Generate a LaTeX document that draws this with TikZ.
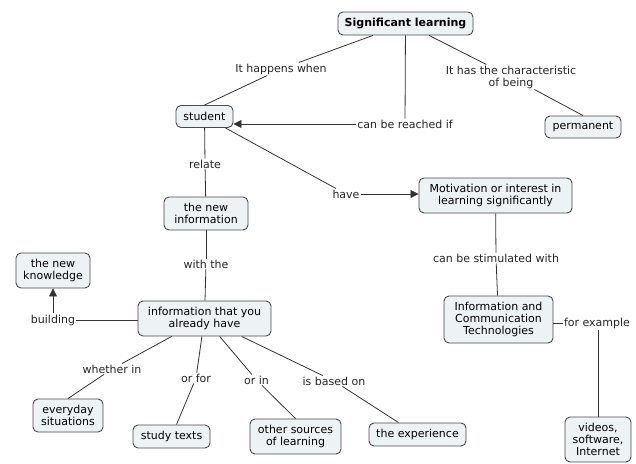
\documentclass[tikz,border=0pt]{standalone}
\usepackage{fontspec}
\setmainfont{DejaVu Sans}
\usetikzlibrary{arrows.meta}
\definecolor{boxfill}{HTML}{EDF2F5}
\definecolor{boxline}{HTML}{4A4A4A}
\definecolor{edgecol}{HTML}{333333}
\begin{document}
\begin{tikzpicture}[x=1pt,y=-1pt, font=\fontsize{11}{12}\selectfont,
  concept/.style={draw=boxline, fill=boxfill, rounded corners=5pt, line width=0.9pt, align=center, inner sep=0pt},
  link/.style={align=center, inner sep=1pt, text=black!85},
  conn/.style={draw=edgecol, line width=0.8pt},
  arr/.style={conn, -{Triangle[length=8pt,width=8pt]}}]
\useasboundingbox[fill=white] (0,0) rectangle (636,463);
% concepts
\node[concept, minimum width=135pt, minimum height=23pt] (sl) at (405.5,23.5) {\bfseries Significant learning};
\node[concept, minimum width=57pt, minimum height=22pt] (student) at (204.5,116.5) {student};
\node[concept, minimum width=76pt, minimum height=22pt] (perm) at (583,127) {permanent};
\node[concept, minimum width=84pt, minimum height=33pt] (newinfo) at (206,213.5) {the new\\information};
\node[concept, minimum width=153pt, minimum height=35pt] (motiv) at (495.5,195.5) {Motivation or interest in\\learning significantly};
\node[concept, minimum width=74pt, minimum height=35pt] (newknow) at (53,270.5) {the new\\knowledge};
\node[concept, minimum width=133pt, minimum height=35pt] (info) at (204.5,318.5) {information that you\\already have};
\node[concept, minimum width=109pt, minimum height=47pt] (ict) at (498.5,319.5) {Information and\\Communication\\Technologies};
\node[concept, minimum width=70pt, minimum height=33pt] (everyday) at (68,415.5) {everyday\\situations};
\node[concept, minimum width=77pt, minimum height=23pt] (study) at (171.5,436.5) {study texts};
\node[concept, minimum width=91pt, minimum height=35pt] (other) at (295.5,436.5) {other sources\\of learning};
\node[concept, minimum width=97pt, minimum height=23pt] (exper) at (417.5,434.5) {the experience};
\node[concept, minimum width=66pt, minimum height=45pt] (videos) at (598,439.5) {videos,\\software,\\Internet};
% linking phrases
\node[link] (happens) at (281,69) {It happens when};
\node[link] (reach) at (405,124) {can be reached if};
\node[link] (charac) at (511,77) {It has the characteristic\\of being};
\node[link] (relate) at (205,164) {relate};
\node[link] (have) at (346,194) {have};
\node[link] (stim) at (496,258) {can be stimulated with};
\node[link] (forex) at (597,323) {for example};
\node[link] (withthe) at (206,264) {with the};
\node[link] (building) at (53,320) {building};
\node[link] (whether) at (112,369) {whether in};
\node[link] (orfor) at (196,378) {or for};
\node[link] (orin) at (256.5,380) {or in};
\node[link] (based) at (334,381) {is based on};
% connectors
\draw[conn] (sl) -- (happens);
\draw[conn] (happens) -- (student.north);
\draw[conn] (sl) -- (reach);
\draw[arr] (reach) -- (reach -| student.east);
\draw[conn] (sl) -- (charac);
\draw[conn] (charac) -- (perm.north);
\draw[conn] (student) -- (relate);
\draw[conn] (relate) -- (newinfo);
\draw[conn] (student) -- (have);
\draw[arr] (have) -- (have -| motiv.west);
\draw[conn] (motiv) -- (stim);
\draw[conn] (stim) -- (ict);
\draw[conn] (forex) -- (forex -| ict.east);
\draw[conn] (forex.south -| videos.north) -- (videos.north);
\draw[conn] (newinfo) -- (withthe);
\draw[conn] (withthe) -- (info);
\draw[conn] (building) -- (building -| info.west);
\draw[arr] (building) -- (newknow);
\draw[conn] (info) -- (whether);
\draw[conn] (whether) -- (everyday.north);
\draw[conn] (info) -- (orfor);
\draw[conn] (orfor) -- ([xshift=5pt]study.north);
\draw[conn] (info) -- (orin);
\draw[conn] (orin) -- (other.north);
\draw[conn] (info) -- (based);
\draw[conn] (based) -- ([xshift=-19pt]exper.north);
\end{tikzpicture}
\end{document}
